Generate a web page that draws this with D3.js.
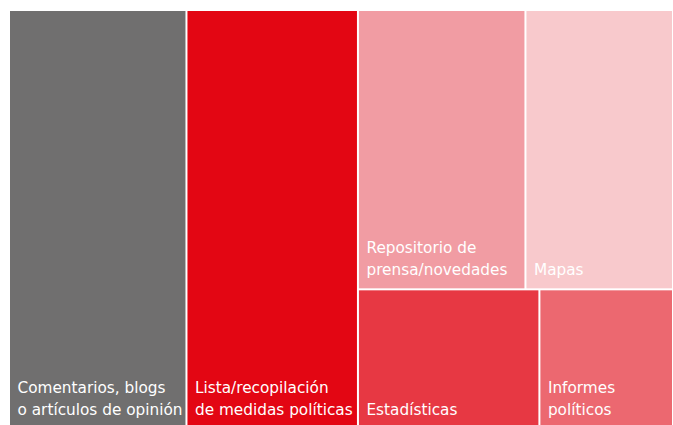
<!DOCTYPE html>
<html>
<head>
<meta charset="utf-8">
<script src="https://cdn.jsdelivr.net/npm/d3@7"></script>
<style>
  body { margin: 0; background: #fff; }
  svg { display: block; }
  text { font-family: "DejaVu Sans", sans-serif; font-size: 15.3px; fill: #fff; }
</style>
</head>
<body>
<div id="chart"></div>
<script>
// Chart size (window) and treemap area
var width = 673;
var height = 425;

// Data: share of each type of resource (%)
var categories = [
  ["Comentarios, blogs", "o artículos de opinión"],
  ["Lista/recopilación", "de medidas políticas"],
  ["Repositorio de", "prensa/novedades"],
  ["Mapas"],
  ["Estadísticas"],
  ["Informes", "políticos"]
];
var values = [26.7, 25.8, 16.8, 14.8, 9.1, 6.7];
var colors = ["#706f6f", "#e30613", "#f19ca3", "#f8c9cc", "#e73843", "#ec6870"];

// grouping of the layout: two full columns, then two rows of two
var groups = [[0], [1], [[2, 3], [4, 5]]];

function buildNode(g) {
  if (typeof g === "number") {
    return { lines: categories[g], value: values[g], color: colors[g] };
  }
  return { children: g.map(buildNode) };
}

var rootData = { children: groups.map(function(g) {
  return g.length === 1 ? buildNode(g[0]) : buildNode(g);
}) };

var root = d3.hierarchy(rootData).sum(function(d) { return d.value || 0; });

// columns at even depth, rows at odd depth
d3.treemap()
  .size([662, 417])
  .paddingInner(2)
  .round(false)
  .tile(function(node, x0, y0, x1, y1) {
    (node.depth % 2 === 0 ? d3.treemapDice : d3.treemapSlice)(node, x0, y0, x1, y1);
  })(root);

var svg = d3.select("#chart").append("svg")
  .attr("width", width)
  .attr("height", height)
  .append("g")
  .attr("transform", "translate(10,11)");

var leaf = svg.selectAll("g.leaf")
  .data(root.leaves())
  .enter()
  .append("g")
  .attr("class", "leaf")
  .attr("transform", function(d) { return "translate(" + d.x0 + "," + d.y0 + ")"; });

leaf.append("rect")
  .attr("width", function(d) { return d.x1 - d.x0; })
  .attr("height", function(d) { return d.y1 - d.y0; })
  .attr("fill", function(d) { return d.data.color; });

// labels sit at the bottom left of each box
leaf.each(function(d) {
  var lines = d.data.lines;
  var h = d.y1 - d.y0;
  d3.select(this).selectAll("text")
    .data(lines)
    .enter()
    .append("text")
    .attr("x", 7.5)
    .attr("y", function(t, i) { return h - 13 - (lines.length - 1 - i) * 22; })
    .text(function(t) { return t; });
});
</script>
</body>
</html>
